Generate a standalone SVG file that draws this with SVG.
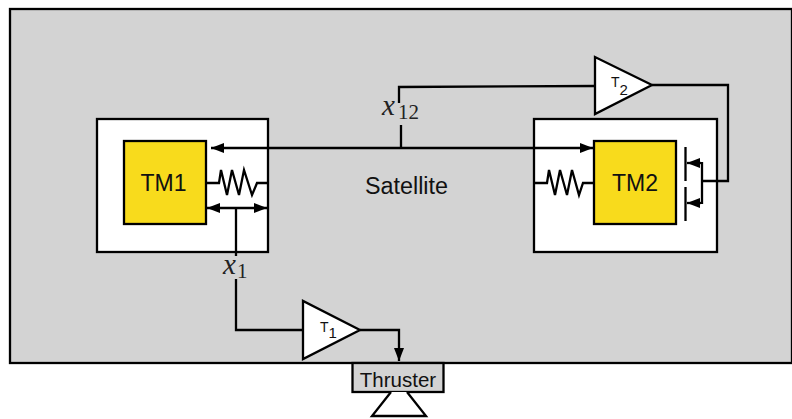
<svg xmlns="http://www.w3.org/2000/svg" width="792" height="419" viewBox="0 0 792 419">
<style>
.b{stroke:#000;stroke-width:2.300;fill:none}
.w{stroke:#000;stroke-width:2.300;fill:#fff}
.y{stroke:#000;stroke-width:2.300;fill:#f8db1c}
.s{font-family:"Liberation Sans",Arial,sans-serif;fill:#111}
.m{font-family:"Liberation Serif","Times New Roman",serif;fill:#222}
</style>
<defs>
<marker id="a" markerUnits="userSpaceOnUse" markerWidth="13" markerHeight="11" refX="13" refY="5.500" orient="auto-start-reverse"><path d="M0 0.500L13 5.500L0 10.500Z" fill="#000"/></marker>
</defs>
<rect width="792" height="419" fill="#fff"/>
<g id="satellite">
<rect x="10" y="9" width="782" height="354" fill="#d3d3d3" stroke="#000" stroke-width="2.300"/>
<text class="s" x="406.500" y="194" font-size="23" text-anchor="middle" textLength="83" lengthAdjust="spacingAndGlyphs">Satellite</text>
</g>
<g id="tm1-box"><rect class="w" x="97" y="119" width="171" height="133"/></g>
<g id="tm2-box"><rect class="w" x="534" y="119" width="183" height="133"/></g>
<g id="tm1"><rect class="y" x="124" y="141" width="82" height="83"/><text class="s" x="163.500" y="191" font-size="23" text-anchor="middle">TM1</text></g>
<g id="tm2"><rect class="y" x="594" y="141" width="82" height="83"/><text class="s" x="635" y="191" font-size="23" text-anchor="middle">TM2</text></g>
<g id="connectors">
<path class="b" marker-start="url(#a)" marker-end="url(#a)" d="M211 148H593"/>
<path class="b" marker-start="url(#a)" marker-end="url(#a)" d="M207 208H267"/>
<path class="b" d="M236 208V256M236 279V330H303"/>
<path class="b" marker-end="url(#a)" d="M360 330H399V361"/>
<path class="b" d="M401 148V125M399 103V87L595 86"/>
<path class="b" d="M652 85H728V181H701"/>
<path class="b" d="M206 183H219L221 170L227 195L232 170L239 195L244 170L252 195L257 183H268"/>
<path class="b" d="M534 183H547L549 170L555 195L560 170L567 195L572 170L579 195L583 183H594"/>
<path class="b" d="M685.500 147V181M685.500 187V221"/>
<path class="b" marker-end="url(#a)" d="M701 163H687"/>
<path class="b" marker-end="url(#a)" d="M701 203H687"/>
<path class="b" d="M702 162V204"/>
</g>
<g id="t1"><path class="w" d="M303 301V359L360 330Z"/><text class="s" x="320" y="332" font-size="14">T</text><text class="s" x="328.500" y="338" font-size="15">1</text></g>
<g id="t2"><path class="w" d="M595 57V114L652 85Z"/><text class="s" x="611" y="87" font-size="14">T</text><text class="s" x="619.500" y="95" font-size="15">2</text></g>
<g id="thruster">
<rect x="352.500" y="363" width="91" height="29" fill="#d3d3d3" stroke="#000" stroke-width="2.300"/>
<text class="s" x="398" y="387" font-size="20.500" text-anchor="middle">Thruster</text>
<path class="w" d="M391 392L372 416H426L407 392"/>
</g>
<g id="x1-label"><text class="m" x="223" y="274" font-size="29" font-style="italic">x</text><text class="m" x="237" y="278" font-size="21">1</text></g>
<g id="x12-label"><text class="m" x="382" y="115" font-size="29" font-style="italic">x</text><text class="m" x="398" y="119" font-size="21">12</text></g>
</svg>
